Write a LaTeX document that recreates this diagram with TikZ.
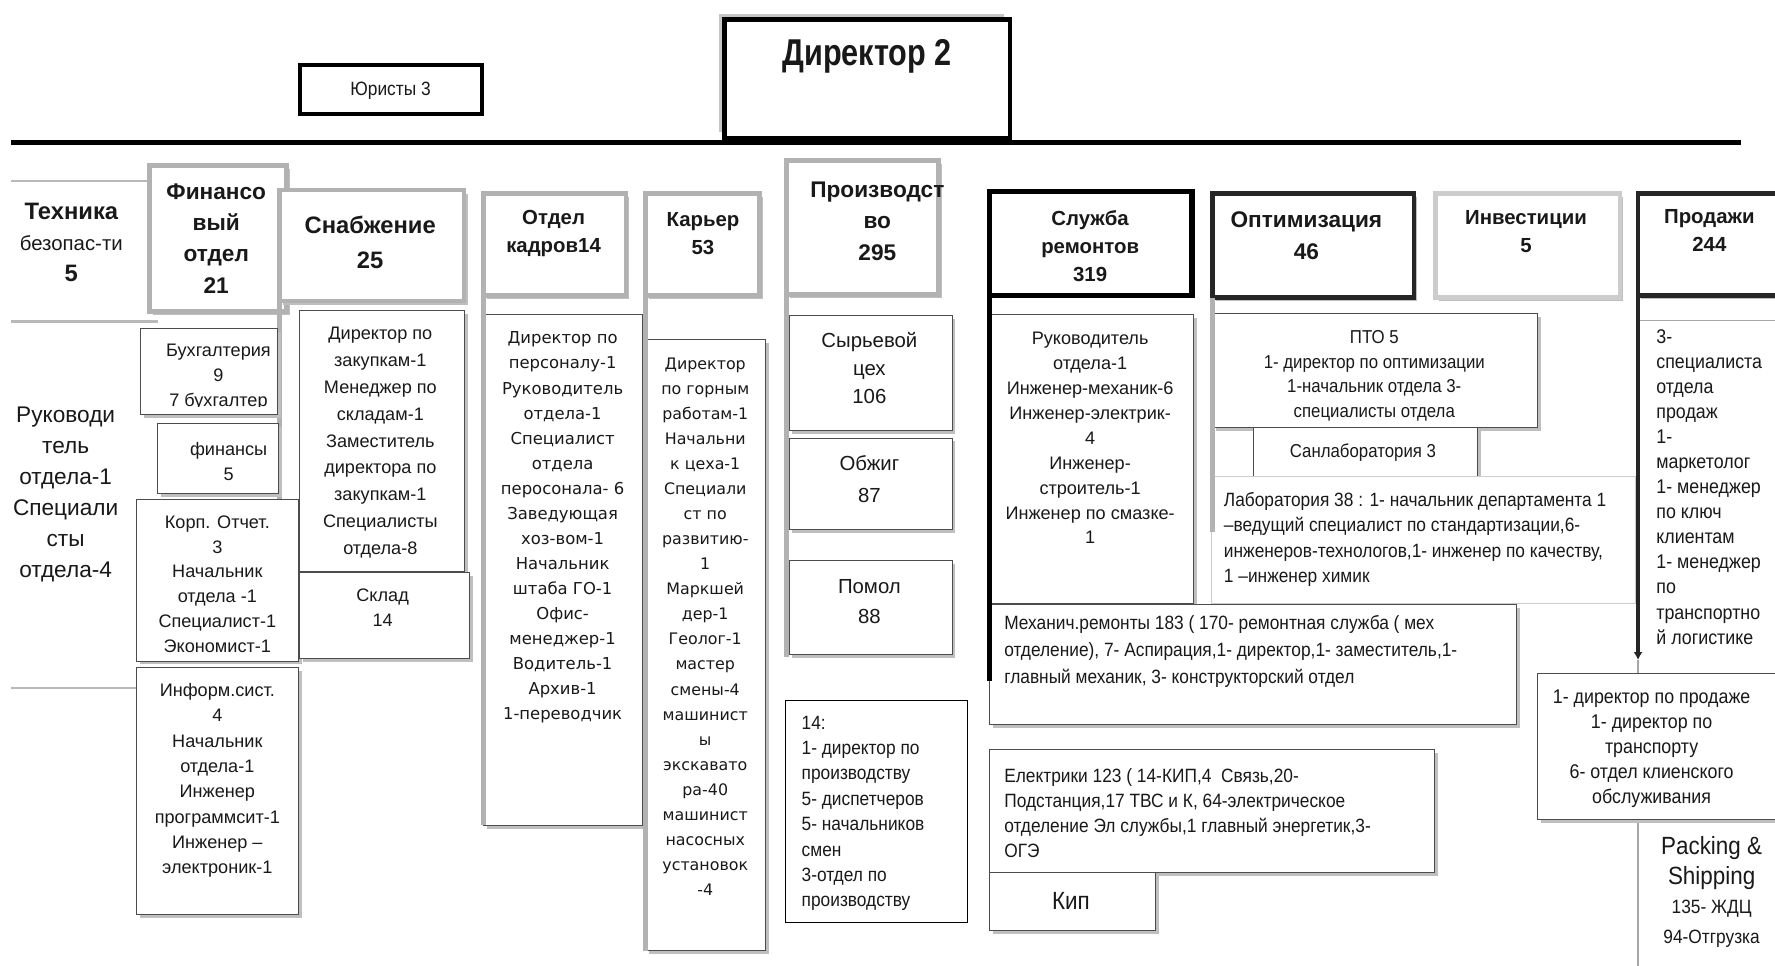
\documentclass[tikz,border=0pt]{standalone}
\usepackage{fontspec}
\setmainfont{Liberation Sans}
\newfontfamily\nar[FakeStretch=0.9]{Liberation Sans}
\newfontfamily\narr[FakeStretch=0.82]{Liberation Sans}
\newfontfamily\dv{DejaVu Sans}
\usetikzlibrary{shadows,arrows.meta}
\newcommand\fsz[2]{\fontsize{#1}{#2}\selectfont}
\newcommand\bxn[6]{\pgfmathsetmacro\bxw{#5-#3}\pgfmathsetmacro\bxh{#6-#4}\node[#1,minimum width=\bxw pt,minimum height=\bxh pt,anchor=north west] (#2) at (#3,#4) {};}
\tikzset{
 shd/.style={drop shadow={shadow xshift=3pt,shadow yshift=-3pt,fill=gray!50,opacity=1}},
 hgrey/.style={draw=gray!60, line width=4pt, fill=white, inner sep=0pt, outer sep=0pt, shd},
 hlight/.style={draw=gray!40, line width=4pt, fill=white, inner sep=0pt, outer sep=0pt, shd},
 hdark/.style={draw=black!85, line width=4pt, fill=white, inner sep=0pt, outer sep=0pt, shd},
 hblack/.style={draw=black, line width=4.5pt, fill=white, inner sep=0pt, outer sep=0pt},
 dirbox/.style={draw=black, line width=4pt, fill=white, inner sep=0pt, outer sep=0pt, drop shadow={shadow xshift=-5pt,shadow yshift=5pt,fill=gray!45,opacity=1}},
 jurbox/.style={draw=black, line width=3.5pt, fill=white, inner sep=0pt, outer sep=0pt},
 sub/.style={draw=black!70, line width=0.9pt, fill=white, inner sep=0pt, outer sep=0pt, shd},
 subk/.style={draw=black, line width=1pt, fill=white, inner sep=0pt, outer sep=0pt},
 sublight/.style={draw=gray!40, line width=0.8pt, fill=white, inner sep=0pt, outer sep=0pt},
 txt/.style={inner sep=0pt, align=center, text=black!90},
 txtl/.style={inner sep=0pt, align=left, text=black!90},
 gbar/.style={draw=gray!60, line width=4pt},
 bbar/.style={draw=black, line width=4pt},
 dbar/.style={draw=black!85, line width=3pt},
 gline/.style={draw=gray!55, line width=2pt},
 tline/.style={draw=gray!70, line width=1pt},
}
\begin{document}
\begin{tikzpicture}[x=1pt,y=-1pt]
\fill[white] (0,0) rectangle (1568,853);
\path[use as bounding box] (0,0) rectangle (1568,853);

% ---- top
\coordinate (LL) at (10,126); \coordinate (LR) at (1538,126);
\draw[line width=5pt] (LL) -- (LR);
\bxn{dirbox}{dir}{640}{17}{892}{122}
\node[txt, font={\narr\bfseries\fsz{33}{36}}] (dirt) at (766,50) {Директор 2};
\bxn{jurbox}{jur}{265}{57}{426}{101}
\node[txt, font={\nar\fsz{17}{20}}] (jurt) at (345,80) {Юристы 3};

% ---- Техника
\coordinate (t1a) at (10,160); \coordinate (t1b) at (130,160);
\coordinate (t2a) at (10,284); \coordinate (t2b) at (140,284);
\coordinate (t3a) at (10,608); \coordinate (t3b) at (121,608);
\draw[gline] (t1a) -- (t1b); \draw[gline] (t2a) -- (t2b); \draw[gline] (t3a) -- (t3b);
\node[txt, font={\fsz{18}{27.5}}] (tech) at (63,214) {{\bfseries\fsz{21}{27.5}Техника}\\безопас-ти\\{\bfseries\fsz{21}{27.5}5}};
\node[txt, font={\fsz{20}{27.4}}] (techl) at (58,437) {Руководи\\тель\\отдела-1\\Специали\\сты\\отдела-4};

% ---- headers
\bxn{hgrey}{fin}{132}{146}{253}{275}
\node[txt, font={\bfseries\fsz{20}{27.7}}] (fint) at (191,210.5) {Финансо\\вый\\отдел\\21};
\bxn{hgrey}{snab}{247}{168}{410}{266}
\node[txt, font={\bfseries\fsz{21}{31}}] (snabt) at (327,214.5) {Снабжение\\25};
\bxn{hgrey}{kadr}{427}{171}{553}{261}
\node[txt, font={\bfseries\fsz{18}{25}}] (kadrt) at (489,206.5) {Отдел\\кадров14};
\bxn{hgrey}{kar}{570}{171}{671}{261}
\node[txt, font={\bfseries\fsz{18}{25}}] (kart) at (621,206.5) {Карьер\\53};
\bxn{hgrey}{proiz}{695}{142}{829}{260}
\node[txt, font={\bfseries\fsz{20}{27.5}}] (proizt) at (775,195.5) {Производст\\во\\295};
\bxn{hblack}{sl}{874}{169}{1053}{261}
\node[txt, font={\bfseries\fsz{18}{24.5}}] (slt) at (963,217.5) {Служба\\ремонтов\\319};
\bxn{hdark}{opt}{1071}{171}{1249}{263}
\node[txt, font={\bfseries\fsz{20}{28}}] (optt) at (1154,208) {Оптимизация\\46};
\bxn{hlight}{inv}{1268}{171}{1431}{263}
\node[txt, font={\bfseries\fsz{18}{25}}] (invt) at (1348,204.5) {Инвестиции\\5};
\bxn{hdark}{prod}{1447}{171}{1590}{261}
\node[txt, font={\bfseries\fsz{18}{25}}] (prodt) at (1510,203.5) {Продажи\\244};

% ---- Финансовый
\coordinate (finbar) at (247,472);
\draw[gbar] (snab.south west) -- (finbar);
\bxn{sub}{buh}{124}{290}{245}{366}
\begin{scope}\clip (124,290) rectangle (245,359);
\node[txt, font={\fsz{16}{22}}] (buht) at (193,333) {Бухгалтерия\\9\\7 бухгалтер};
\end{scope}
\bxn{sub}{finsub}{139}{374}{246}{436}
\node[txt, font={\fsz{16}{22}}] (finsubt) at (202,408) {финансы\\5};
\bxn{sub}{korp}{121}{441}{264}{584}
\begin{scope}\clip (121,441) rectangle (264,576);
\node[txt, font={\fsz{16}{22}}] (korpt) at (192,516) {Корп. Отчет.\\3\\Начальник\\отдела -1\\Специалист-1\\Экономист-1};
\end{scope}
\bxn{sub}{inf}{121}{590}{264}{808}
\node[txt, font={\fsz{16}{22.4}}] (inft) at (192,689.5) {Информ.сист.\\4\\Начальник\\отдела-1\\Инженер\\программсит-1\\Инженер –\\электроник-1};

% ---- Снабжение
\bxn{sub}{snl}{265}{274}{410}{505}
\node[txt, font={\fsz{16}{23.75}}] (snlt) at (336,391) {Директор по\\закупкам-1\\Менеджер по\\складам-1\\Заместитель\\директора по\\закупкам-1\\Специалисты\\отдела-8};
\bxn{sub}{sklad}{265}{506}{415}{582}
\node[txt, font={\fsz{16}{22}}] (skladt) at (338,537) {Склад\\14};

% ---- Отдел кадров
\bxn{sub}{kadl}{427}{278}{568}{729}
\draw[gbar] (kadr.south west) -- (kadl.south west);
\node[txt, font={\dv\fsz{14.5}{22.13}}] (kadlt) at (497,466) {Директор по\\персоналу-1\\Руководитель\\отдела-1\\Специалист\\отдела\\пеpосонала- 6\\Заведующая\\хоз-вом-1\\Начальник\\штаба ГО-1\\Офис-\\менеджер-1\\Водитель-1\\Архив-1\\1-переводчик};

% ---- Карьер
\bxn{sub}{karl}{570}{300}{676}{840}
\draw[gbar] (kar.south west) -- (karl.south west);
\node[txt, font={\dv\fsz{14}{22.14}}] (karlt) at (623,553.5) {Директор\\по горным\\работам-1\\Начальни\\к цеха-1\\Специали\\ст по\\развитию-\\1\\Маркшей\\дер-1\\Геолог-1\\мастер\\смены-4\\машинист\\ы\\экскавато\\ра-40\\машинист\\насосных\\установок\\-4};

% ---- Производство
\coordinate (prbar) at (695,580);
\draw[gbar] (proiz.south west) -- (prbar);
\bxn{sub}{syr}{697}{279}{841}{380}
\node[txt, font={\fsz{18}{25}}] (syrt) at (768,325) {Сырьевой\\цех\\106};
\bxn{sub}{obzh}{697}{387}{841}{468}
\node[txt, font={\fsz{18}{28}}] (obzht) at (768,423) {Обжиг\\87};
\bxn{sub}{pomol}{697}{495}{841}{578}
\node[txt, font={\fsz{18}{27}}] (pomolt) at (768,531.5) {Помол\\88};
\bxn{subk}{p14}{694}{619}{855}{815}
\node[txtl, font={\nar\fsz{17}{22.4}}, anchor=west] (p14t) at (708,718.5) {14:\\1- директор по\\производству\\5- диспетчеров\\5- начальников\\смен\\3-отдел по\\производству};

% ---- Служба ремонтов
\coordinate (slend) at (874,602);
\bxn{sub}{sll}{876}{278}{1054}{533}
\node[txt, font={\fsz{16}{22}}] (sllt) at (963,387) {Руководитель\\отдела-1\\Инженер-механик-6\\Инженер-электрик-\\4\\Инженер-\\строитель-1\\Инженер по смазке-\\1};
\bxn{sub}{mech}{874}{534}{1340}{640}
\node[txtl, font={\nar\fsz{17}{23.5}}, anchor=west] (mecht) at (887,575.5) {Механич.ремонты 183 ( 170- ремонтная служба ( мех\\отделение), 7- Аспирация,1- директор,1- заместитель,1-\\главный механик, 3- конструкторский отдел};
\draw[bbar] (sl.south west) -- (slend);
\bxn{sub}{elec}{874}{662}{1267}{771}
\node[txtl, font={\nar\fsz{17}{22}}, anchor=west] (elect) at (887,718) {Електрики 123 ( 14-КИП,4\ \ Связь,20-\\Подстанция,17 ТВС и К, 64-электрическое\\отделение Эл службы,1 главный энергетик,3-\\ОГЭ};
\bxn{sub}{kip}{874}{771}{1021}{822}
\node[txt, font={\nar\fsz{22}{24}}] (kipt) at (946,796) {Кип};

% ---- Оптимизация
\bxn{sub}{pto}{1071}{277}{1358}{378}
\begin{scope}\clip (1071,277) rectangle (1358,372);
\node[txt, font={\nar\fsz{16.5}{22}}] (ptot) at (1214,332) {ПТО 5\\1- директор по оптимизации\\1-начальник отдела 3-\\специалисты отдела};
\end{scope}
\bxn{sub}{sanl}{1107}{378}{1305}{421}
\node[txt, font={\nar\fsz{16.5}{20}}] (sanlt) at (1204,400) {Санлаборатория 3};
\bxn{sublight}{lab}{1070}{421}{1445}{533}
\node[txtl, font={\nar\fsz{17}{22.3}}, anchor=west] (labt) at (1081,476.5) {Лаборатория 38 : 1- начальник департамента 1\\–ведущий специалист по стандартизации,6-\\инженеров-технологов,1- инженер по качеству,\\1 –инженер химик};
\coordinate (optbar) at (1071,470);
\draw[gbar] (opt.south west) -- (optbar);

% ---- Продажи
\coordinate (pl1) at (1447,283); \coordinate (pl2) at (1568,283);
\draw[tline] (pl1) -- (pl2);
\node[txtl, font={\nar\fsz{17.5}{22.17}}, anchor=west] (prodl) at (1463,430) {3-\\специалиста\\отдела\\продаж\\1-\\маркетолог\\1- менеджер\\по ключ\\клиентам\\1- менеджер\\по\\транспортно\\й логистике};
\coordinate (parr) at (1447,583);
\coordinate (pbot) at (1447,853);
\draw[tline] (parr) -- (pbot);
\draw[dbar, -{Latex[length=7pt,width=8pt]}] (prod.south west) -- (parr);
\bxn{sub}{psub}{1358}{595}{1590}{724}
\node[txt, font={\nar\fsz{17.5}{22.25}}] (psubt) at (1459,661.5) {1- директор по продаже\\1- директор по\\транспорту\\6- отдел клиенского\\обслуживания};
\node[txt, font={\nar\fsz{22}{26}}] (pack) at (1512,788) {Packing \&\\Shipping\\{\fsz{17}{23}135- ЖДЦ}\\{\fsz{17}{22}94-Отгрузка}};
\end{tikzpicture}
\end{document}
